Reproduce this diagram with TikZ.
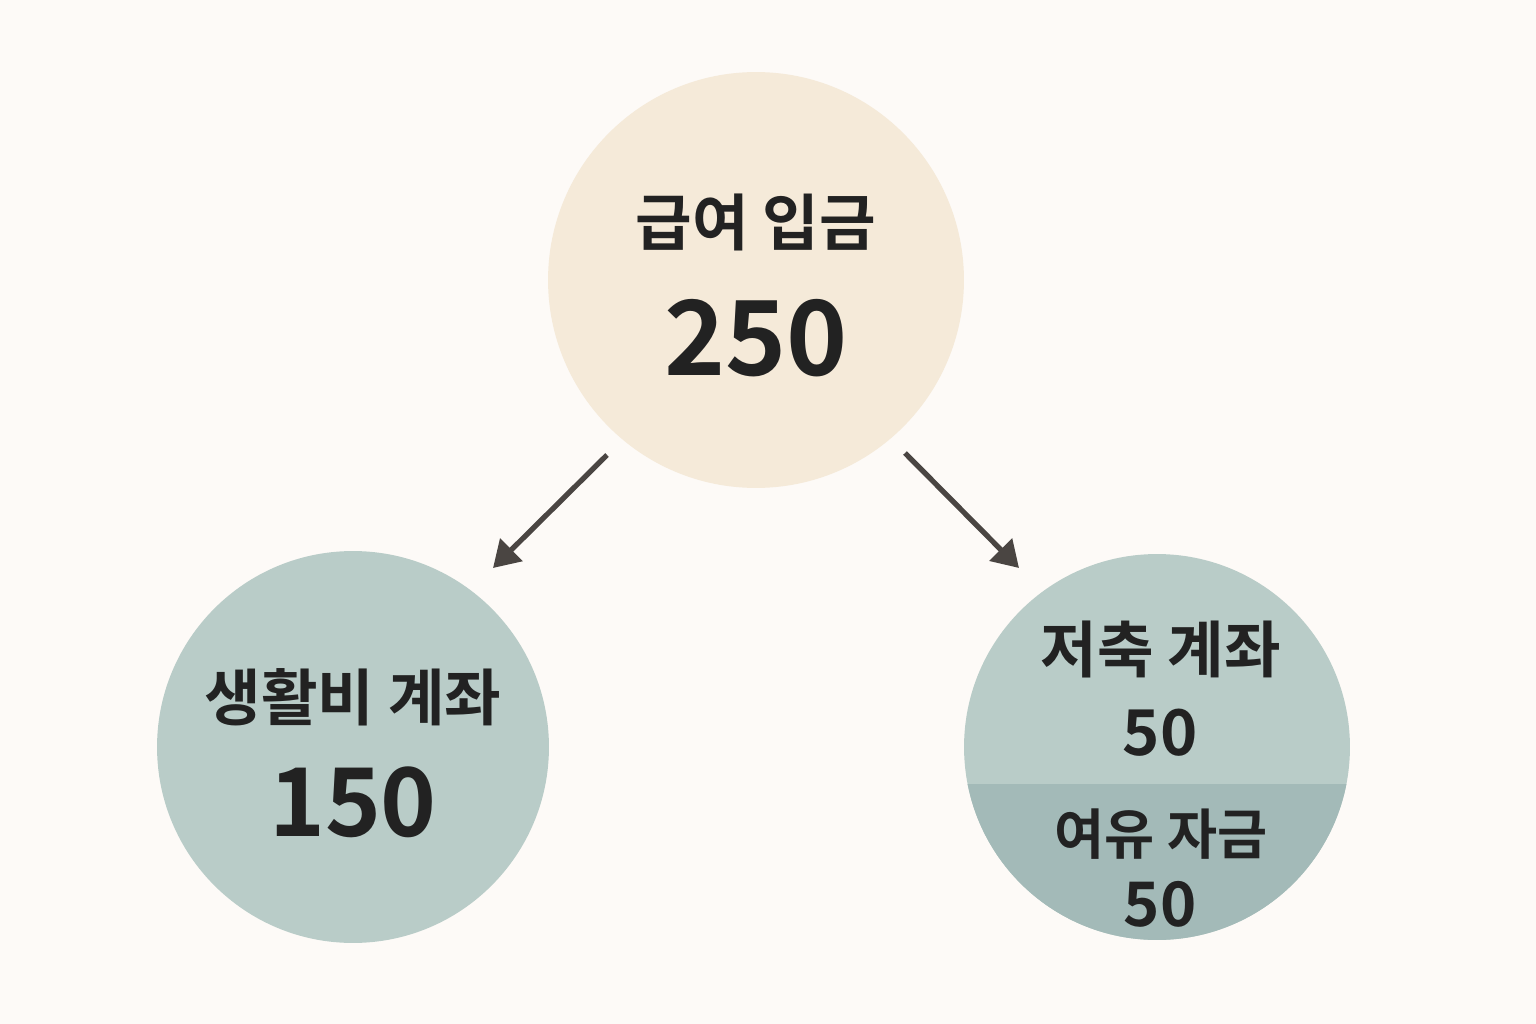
\documentclass[tikz,border=0pt]{standalone}
\usepackage{fontspec}
\setmainfont{Noto Sans CJK KR}[BoldFont={Noto Sans CJK KR Bold}]
\usetikzlibrary{arrows.meta,calc}
\definecolor{bgcol}{HTML}{FDFAF7}
\definecolor{paycol}{HTML}{F5EAD9}
\definecolor{acccol}{HTML}{B9CCC8}
\definecolor{sparecol}{HTML}{A3BAB8}
\definecolor{inkcol}{HTML}{222222}
\definecolor{arrcol}{HTML}{4A4542}
\tikzset{
	pot/.style={circle, inner sep=0pt, draw=none},
	lbl/.style={text=inkcol, font=\bfseries, inner sep=0pt, anchor=center},
	flow/.style={draw=arrcol, line width=3pt, -{Triangle[length=0.52cm,width=0.62cm]}}
}
\begin{document}
\begin{tikzpicture}[x=0.02cm, y=-0.02cm]
		\fill[bgcol] (0, 0) rectangle (1536, 1024);
		\useasboundingbox (0, 0) rectangle (1536, 1024);

		% the three pots
		\node[pot, fill=paycol, minimum size=8.32cm] (pay) at (756, 280) {};
		\node[pot, fill=acccol, minimum size=7.84cm] (living) at (353, 747) {};
		\node[pot, fill=acccol, minimum size=7.72cm,
			path picture={\fill[sparecol] ([yshift=-0.74cm]path picture bounding box.west) rectangle (path picture bounding box.south east);}]
			(saving) at (1157, 747) {};

		% texts
		\node[lbl, font=\bfseries\fontsize{35}{35}\selectfont] (payname) at (756, 222) {급여 입금};
		\node[lbl, font=\bfseries\fontsize{59}{59}\selectfont] (payval) at (756, 338) {250};

		\node[lbl, font=\bfseries\fontsize{35}{35}\selectfont] (livingname) at (353, 697) {생활비 계좌};
		\node[lbl, font=\bfseries\fontsize{54}{54}\selectfont] (livingval) at (353, 802) {150};

		\node[lbl, font=\bfseries\fontsize{35}{35}\selectfont] (savingname) at (1161, 649) {저축 계좌};
		\node[lbl, font=\bfseries\fontsize{36}{36}\selectfont] (savingval) at (1160, 733) {50};
		\node[lbl, font=\bfseries\fontsize{31}{31}\selectfont] (sparename) at (1161, 834) {여유 자금};
		\node[lbl, font=\bfseries\fontsize{35}{35}\selectfont] (spareval) at (1160, 904) {50};

		% flows
		\draw[flow] ($(pay)+(-149, 175)$) -- ($(living)+(140, -179)$);
		\draw[flow] ($(pay)+(149, 173)$) -- ($(saving)+(-138, -179)$);
	\end{tikzpicture}
\end{document}
